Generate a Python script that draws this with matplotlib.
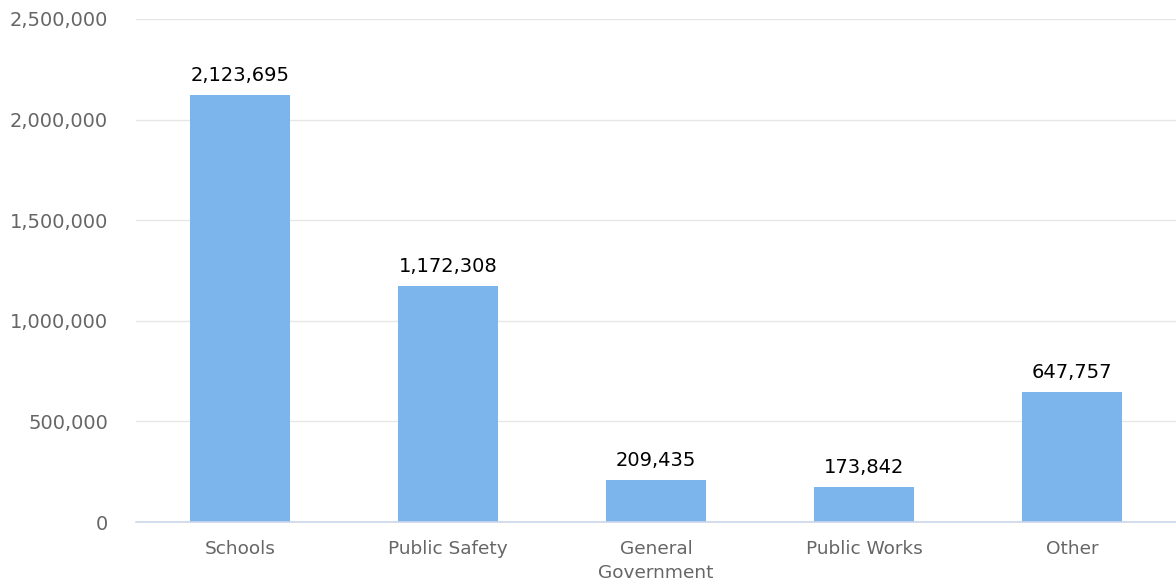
import matplotlib as mp
mp.use('Agg')
import matplotlib.pyplot as plt
from matplotlib.ticker import FuncFormatter
import numpy as np

categories = ['Schools', 'Public Safety', 'General\nGovernment', 'Public Works', 'Other']
values = [2123695, 1172308, 209435, 173842, 647757]
yticks = [0, 500000, 1000000, 1500000, 2000000, 2500000]

fig = plt.figure(figsize=(11.76, 5.87), dpi=100)
ax = fig.add_axes([0.1156, 0.1107, 0.8844, 0.857])

x = np.arange(len(categories))
ax.bar(x, values, width=0.48, color='#7cb5ec', zorder=3)

for xi, v in zip(x, values):
    ax.annotate(f'{v:,}', (xi, v), xytext=(0, 7), textcoords='offset points',
                ha='center', va='bottom', fontsize=14, color='black')

ax.set_xlim(-0.5, len(categories) - 0.5)
ax.set_ylim(0, 2500000)
ax.set_yticks(yticks)
ax.yaxis.set_major_formatter(FuncFormatter(lambda v, p: f'{int(v):,}'))
ax.set_xticks(x)
ax.set_xticklabels(categories, linespacing=1.45)

ax.grid(axis='y', color='#e6e6e6', linewidth=1, zorder=0)
for s in ['top', 'right', 'left']:
    ax.spines[s].set_visible(False)
ax.spines['bottom'].set_color('#ccd6eb')
ax.spines['bottom'].set_linewidth(1.2)
ax.spines['bottom'].set_zorder(4)

ax.tick_params(axis='y', length=0, pad=20, labelsize=14, labelcolor='#666666')
ax.tick_params(axis='x', length=0, pad=13, labelsize=13.3, labelcolor='#666666')

plt.savefig('out.png', dpi=100)
